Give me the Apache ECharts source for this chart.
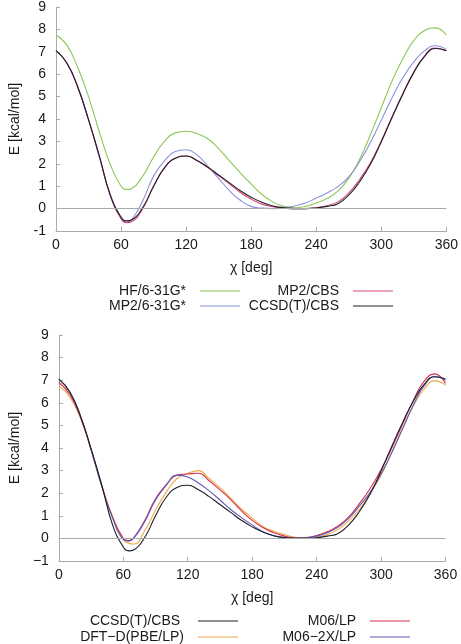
<!DOCTYPE html>
<html>
<head>
<meta charset="utf-8">
<script src="https://cdn.jsdelivr.net/npm/echarts@6/dist/echarts.min.js"></script>
<style>html,body{margin:0;padding:0;background:#fff}#c{width:461px;height:644px}</style>
</head>
<body>
<div id="c"></div>
<script>
// torsion angle chi [deg]
const angles = [0,10,20,30,40,50,60,65,70,80,90,100,110,120,130,140,150,160,170,180,190,200,210,220,230,240,250,260,270,280,290,300,310,320,330,340,350,360];
const xTicks = [0,60,120,180,240,300,360];
const yTicks = [-1,0,1,2,3,4,5,6,7,8,9];

// top panel
const hf631 = [7.75,7.3,6.3,5.0,3.42,1.98,1.0,0.85,0.9,1.45,2.3,3.0,3.38,3.45,3.35,3.12,2.68,2.13,1.6,1.1,0.63,0.3,0.1,0.04,0.1,0.25,0.45,0.78,1.35,2.2,3.3,4.5,5.7,6.7,7.5,7.95,8.07,7.75];
const mp2631 = [7.05,6.5,5.45,3.95,2.3,0.65,-0.42,-0.6,-0.48,0.35,1.45,2.13,2.55,2.63,2.4,1.9,1.35,0.8,0.37,0.1,0.02,0.0,0.03,0.12,0.25,0.47,0.7,0.98,1.42,2.1,2.95,3.95,4.95,5.85,6.55,7.05,7.27,7.1];
const mp2cbs = [7.05,6.5,5.43,3.97,2.32,0.6,-0.45,-0.63,-0.58,0.0,1.0,1.82,2.25,2.35,2.15,1.83,1.47,1.1,0.72,0.43,0.2,0.08,0.02,0.0,0.0,0.04,0.13,0.3,0.7,1.3,2.05,3.02,4.1,5.15,6.1,6.82,7.17,7.05];
const ccsdt = [7.05,6.5,5.43,3.97,2.35,0.6,-0.38,-0.55,-0.5,0.05,1.0,1.82,2.25,2.35,2.15,1.85,1.5,1.15,0.8,0.51,0.28,0.12,0.04,0.0,0.0,0.03,0.1,0.22,0.6,1.2,1.98,2.98,4.08,5.12,6.07,6.8,7.15,7.05];

// bottom panel
const dftd = [6.75,6.27,5.33,3.92,2.35,0.95,-0.05,-0.22,-0.25,0.35,1.25,2.05,2.65,2.88,3.0,2.65,2.25,1.78,1.3,0.9,0.52,0.32,0.17,0.05,0.0,0.05,0.17,0.4,0.78,1.3,2.0,2.8,3.8,4.85,5.85,6.6,6.97,6.78];
const m06 = [6.9,6.38,5.38,3.92,2.3,0.95,0.0,-0.1,0.05,0.8,1.75,2.38,2.8,2.85,2.88,2.55,2.15,1.72,1.22,0.8,0.48,0.25,0.1,0.03,0.04,0.13,0.3,0.55,0.95,1.55,2.22,3.05,4.0,5.05,6.1,6.95,7.28,6.86];
const m062x = [7.05,6.48,5.43,3.93,2.3,0.9,-0.05,-0.12,0.02,0.75,1.7,2.35,2.8,2.72,2.45,2.1,1.7,1.28,0.92,0.6,0.3,0.12,0.03,0.0,0.03,0.1,0.25,0.5,0.9,1.45,2.05,2.85,3.8,4.85,5.9,6.75,7.15,7.0];

const FONT = 'Liberation Sans, Arial, Helvetica, sans-serif';
const AXC = '#a3adad';
const TXT = '#1a1a1a';
const pairs = v => angles.map((a, i) => [a, v[i]]);

function xAx(gi){
  return {
    type:'value', gridIndex:gi, min:xTicks[0], max:xTicks[xTicks.length-1], interval:60,
    name:'χ [deg]', nameLocation:'middle', nameGap:30,
    nameTextStyle:{fontFamily:FONT, fontSize:14, color:TXT},
    axisLine:{show:true, onZero:false, lineStyle:{color:AXC, width:1}},
    axisTick:{show:true, inside:true, length:4, lineStyle:{color:AXC}},
    axisLabel:{fontFamily:FONT, fontSize:14, color:TXT, margin:7, showMinLabel:true, showMaxLabel:true,
      alignMinLabel:'center', alignMaxLabel:'center', hideOverlap:false},
    splitLine:{show:false}
  };
}
function yAx(gi, minusSign){
  return {
    type:'value', gridIndex:gi, min:yTicks[0], max:yTicks[yTicks.length-1], interval:1,
    name:'E [kcal/mol]', nameLocation:'middle', nameRotate:90, nameGap:34,
    nameTextStyle:{fontFamily:FONT, fontSize:14, color:TXT},
    axisLine:{show:true, onZero:false, lineStyle:{color:AXC, width:1}},
    axisTick:{show:true, inside:true, length:4, lineStyle:{color:AXC}},
    axisLabel:{fontFamily:FONT, fontSize:14, color:TXT, margin:10,
      formatter: v => minusSign ? String(v).replace('-', '\u2212') : String(v)},
    splitLine:{show:false}
  };
}
function ser(name, data, color, gi, withZero){
  const s = {
    name, type:'line', xAxisIndex:gi, yAxisIndex:gi, data:pairs(data),
    smooth:0.5, showSymbol:false, symbol:'none',
    lineStyle:{color, width:1.1}, itemStyle:{color}, emphasis:{disabled:true}
  };
  if (withZero) {
    s.markLine = {silent:true, symbol:['none','none'], label:{show:false},
      lineStyle:{color:AXC, width:1, type:'solid'}, data:[{yAxis:0}], animation:false};
  }
  return s;
}
function leg(name, right, top){
  return {
    data:[name], right, top, align:'right', orient:'horizontal', padding:0,
    icon:'rect', itemWidth:40, itemHeight:1.2, selectedMode:false,
    textStyle:{fontFamily:FONT, fontSize:14, color:TXT, lineHeight:14, padding:[0,9,0,0]}
  };
}

const C = {green:'#8cc758', blue:'#8a90dc', pink:'#d84a78', black:'#1e1e28',
           orange:'#f0a848', red:'#d6304e', purple:'#5c5cb8'};

const chart = echarts.init(document.getElementById('c'), null, {renderer:'canvas'});
chart.setOption({
  animation:false,
  backgroundColor:'#fff',
  grid:[
    {left:49, top:5, width:398, height:226},
    {left:47.5, top:335, width:398, height:226}
  ],
  xAxis:[xAx(0), xAx(1)],
  yAxis:[yAx(0,false), yAx(1,true)],
  legend:[
    leg('HF/6-31G*', 221, 284),
    leg('MP2/6-31G*', 221, 299),
    leg('MP2/CBS', 68, 284),
    leg('CCSD(T)/CBS', 68, 299),
    leg('CCSD(T)/CBS ', 223, 614),
    leg('DFT\u2212D(PBE/LP)', 223, 630),
    leg('M06/LP', 51, 614),
    leg('M06\u22122X/LP', 51, 630)
  ],
  series:[
    ser('HF/6-31G*', hf631, C.green, 0, true),
    ser('MP2/6-31G*', mp2631, C.blue, 0, false),
    ser('MP2/CBS', mp2cbs, C.pink, 0, false),
    ser('CCSD(T)/CBS', ccsdt, C.black, 0, false),
    ser('DFT\u2212D(PBE/LP)', dftd, C.orange, 1, true),
    ser('M06/LP', m06, C.red, 1, false),
    ser('M06\u22122X/LP', m062x, C.purple, 1, false),
    ser('CCSD(T)/CBS ', ccsdt, C.black, 1, false)
  ]
});
</script>
</body>
</html>
